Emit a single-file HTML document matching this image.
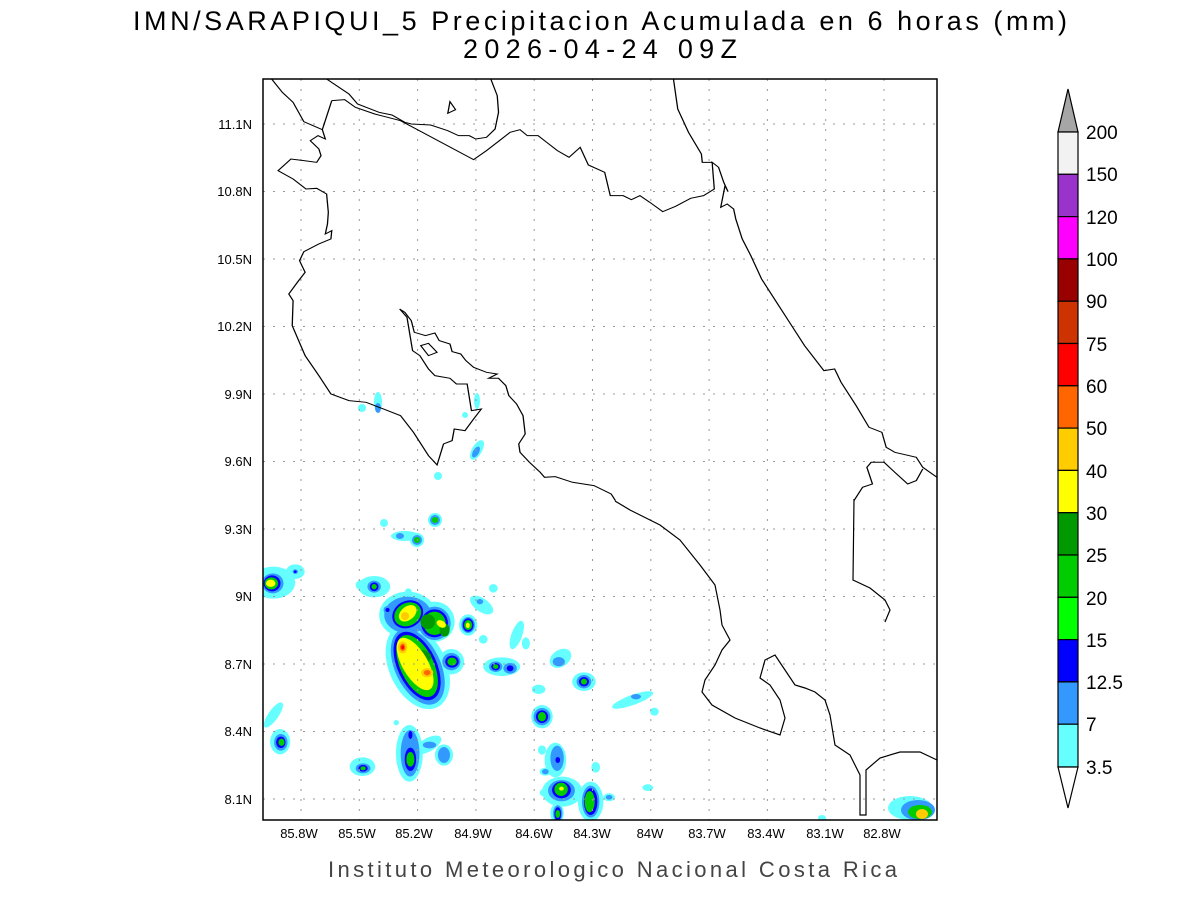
<!DOCTYPE html>
<html><head><meta charset="utf-8"><style>
body{margin:0;background:#fff;}
svg text{font-family:"Liberation Sans",sans-serif;}
</style></head><body>
<svg width="1200" height="900" xmlns="http://www.w3.org/2000/svg">
<rect width="1200" height="900" fill="#fff"/>
<text x="133" y="30" font-size="27" textLength="934" lengthAdjust="spacing" fill="#000">IMN/SARAPIQUI_5 Precipitacion Acumulada en 6 horas (mm)</text>
<text x="463" y="58" font-size="27" textLength="274" lengthAdjust="spacing" fill="#000">2026-04-24 09Z</text>
<defs><clipPath id="c"><rect x="263" y="79" width="674" height="741"/></clipPath></defs>
<g clip-path="url(#c)">
<g transform="translate(260,560) scale(0.3357,0.3333)">
<g fill="#66ffff">
<ellipse cx="40" cy="68" rx="65" ry="48"/><ellipse cx="105" cy="35" rx="28" ry="22"/>
<ellipse cx="340" cy="80" rx="48" ry="32"/><ellipse cx="300" cy="75" rx="15" ry="15"/>
<ellipse cx="440" cy="165" rx="85" ry="70"/><ellipse cx="520" cy="185" rx="60" ry="60"/>
<ellipse cx="470" cy="320" rx="85" ry="135" transform="rotate(-25 470 320)"/>
<ellipse cx="570" cy="305" rx="38" ry="38"/><ellipse cx="620" cy="195" rx="27" ry="32"/>
<ellipse cx="720" cy="320" rx="55" ry="28"/><ellipse cx="965" cy="365" rx="35" ry="28"/>
<ellipse cx="840" cy="470" rx="32" ry="35"/><ellipse cx="60" cy="545" rx="30" ry="38"/>
<ellipse cx="305" cy="620" rx="38" ry="28"/><ellipse cx="445" cy="580" rx="40" ry="85"/>
<ellipse cx="500" cy="555" rx="45" ry="20" transform="rotate(-30 500 555)"/>
<ellipse cx="548" cy="585" rx="27" ry="32"/><ellipse cx="880" cy="600" rx="32" ry="52"/>
<ellipse cx="900" cy="695" rx="60" ry="45"/><ellipse cx="985" cy="725" rx="38" ry="60"/>
<ellipse cx="885" cy="760" rx="20" ry="30"/>
<ellipse cx="765" cy="225" rx="16" ry="45" transform="rotate(20 765 225)"/>
<ellipse cx="792" cy="250" rx="12" ry="18"/><ellipse cx="660" cy="135" rx="40" ry="20" transform="rotate(35 660 135)"/>
<ellipse cx="695" cy="85" rx="13" ry="13"/><ellipse cx="665" cy="238" rx="13" ry="13"/>
<ellipse cx="1110" cy="420" rx="65" ry="15" transform="rotate(-20 1110 420)"/>
<ellipse cx="1175" cy="455" rx="13" ry="12"/><ellipse cx="830" cy="388" rx="20" ry="14"/>
<ellipse cx="840" cy="570" rx="12" ry="14"/><ellipse cx="1000" cy="622" rx="13" ry="16"/>
<ellipse cx="1155" cy="683" rx="16" ry="10"/><ellipse cx="848" cy="698" rx="15" ry="12"/>
<ellipse cx="1040" cy="712" rx="17" ry="12"/><ellipse cx="40" cy="465" rx="15" ry="45" transform="rotate(35 40 465)"/>
<ellipse cx="406" cy="488" rx="8" ry="8"/><ellipse cx="442" cy="95" rx="10" ry="10"/>
<ellipse cx="895" cy="295" rx="35" ry="25" transform="rotate(-35 895 295)"/>
<ellipse cx="850" cy="635" rx="17" ry="12"/><ellipse cx="390" cy="200" rx="20" ry="15"/>
</g>
<g fill="#3399ff">
<ellipse cx="38" cy="70" rx="32" ry="30"/><ellipse cx="105" cy="35" rx="8" ry="7"/>
<ellipse cx="340" cy="80" rx="20" ry="18"/><ellipse cx="380" cy="150" rx="12" ry="12"/>
<ellipse cx="440" cy="165" rx="70" ry="55"/><ellipse cx="520" cy="190" rx="48" ry="50"/>
<ellipse cx="470" cy="320" rx="68" ry="122" transform="rotate(-25 470 320)"/>
<ellipse cx="570" cy="305" rx="27" ry="26"/><ellipse cx="620" cy="195" rx="20" ry="24"/>
<ellipse cx="702" cy="320" rx="20" ry="16"/><ellipse cx="745" cy="325" rx="20" ry="16"/>
<ellipse cx="965" cy="365" rx="22" ry="20"/><ellipse cx="840" cy="470" rx="25" ry="26"/>
<ellipse cx="62" cy="547" rx="20" ry="25"/><ellipse cx="307" cy="625" rx="22" ry="15"/>
<ellipse cx="447" cy="580" rx="28" ry="70"/><ellipse cx="548" cy="585" rx="18" ry="24"/>
<ellipse cx="885" cy="595" rx="20" ry="38"/><ellipse cx="898" cy="692" rx="40" ry="32"/>
<ellipse cx="985" cy="725" rx="26" ry="48"/><ellipse cx="887" cy="760" rx="14" ry="24"/>
<ellipse cx="1120" cy="410" rx="15" ry="8"/><ellipse cx="655" cy="125" rx="10" ry="8"/>
<ellipse cx="890" cy="305" rx="18" ry="14"/><ellipse cx="505" cy="555" rx="20" ry="10"/>
<ellipse cx="850" cy="635" rx="10" ry="8"/><ellipse cx="1040" cy="712" rx="10" ry="7"/>
</g>
<g fill="#0000ff">
<ellipse cx="36" cy="70" rx="25" ry="24"/><ellipse cx="105" cy="35" rx="4" ry="4"/>
<ellipse cx="340" cy="80" rx="13" ry="13"/><ellipse cx="380" cy="150" rx="6" ry="6"/>
<ellipse cx="440" cy="163" rx="48" ry="40" transform="rotate(-30 440 163)"/><ellipse cx="520" cy="190" rx="40" ry="42"/>
<ellipse cx="468" cy="318" rx="58" ry="110" transform="rotate(-25 468 318)"/>
<ellipse cx="572" cy="305" rx="20" ry="18"/><ellipse cx="620" cy="195" rx="16" ry="20"/>
<ellipse cx="702" cy="320" rx="13" ry="11"/><ellipse cx="745" cy="325" rx="10" ry="9"/>
<ellipse cx="965" cy="365" rx="15" ry="14"/><ellipse cx="840" cy="470" rx="18" ry="19"/>
<ellipse cx="62" cy="547" rx="14" ry="17"/><ellipse cx="307" cy="625" rx="14" ry="10"/>
<ellipse cx="448" cy="598" rx="17" ry="35"/><ellipse cx="448" cy="525" rx="6" ry="12"/>
<ellipse cx="887" cy="600" rx="7" ry="9"/><ellipse cx="898" cy="690" rx="28" ry="25"/>
<ellipse cx="985" cy="725" rx="20" ry="40"/><ellipse cx="887" cy="762" rx="10" ry="20"/>
</g>
<g fill="#00cc00">
<ellipse cx="34" cy="70" rx="20" ry="18"/><ellipse cx="340" cy="80" rx="8" ry="8"/>
<ellipse cx="440" cy="163" rx="42" ry="34" transform="rotate(-30 440 163)"/><ellipse cx="520" cy="190" rx="33" ry="35"/>
<ellipse cx="468" cy="318" rx="50" ry="100" transform="rotate(-25 468 318)"/>
<ellipse cx="572" cy="305" rx="14" ry="12"/><ellipse cx="620" cy="195" rx="12" ry="15"/>
<ellipse cx="702" cy="320" rx="8" ry="7"/><ellipse cx="965" cy="365" rx="9" ry="9"/>
<ellipse cx="840" cy="470" rx="12" ry="14"/><ellipse cx="64" cy="547" rx="9" ry="11"/>
<ellipse cx="307" cy="625" rx="8" ry="6"/><ellipse cx="448" cy="598" rx="12" ry="22"/>
<ellipse cx="897" cy="688" rx="20" ry="20"/><ellipse cx="982" cy="725" rx="15" ry="32"/>
<ellipse cx="887" cy="762" rx="7" ry="12"/>
</g>
<g fill="#009900"><ellipse cx="500" cy="185" rx="22" ry="22"/><ellipse cx="550" cy="210" rx="15" ry="20"/><ellipse cx="480" cy="290" rx="30" ry="20"/></g>
<g fill="#ffff00">
<ellipse cx="32" cy="70" rx="14" ry="11"/>
<ellipse cx="440" cy="160" rx="30" ry="20" transform="rotate(-40 440 160)"/><ellipse cx="540" cy="192" rx="15" ry="10" transform="rotate(30 540 192)"/>
<ellipse cx="462" cy="312" rx="38" ry="88" transform="rotate(-30 462 312)"/>
<ellipse cx="619" cy="196" rx="6" ry="8"/><ellipse cx="898" cy="686" rx="7" ry="6"/>
</g>
<g fill="#ffcc00"><ellipse cx="432" cy="168" rx="12" ry="12"/><ellipse cx="425" cy="262" rx="14" ry="18"/><ellipse cx="498" cy="338" rx="18" ry="14"/></g>
<g fill="#ff6600"><ellipse cx="425" cy="262" rx="8" ry="11"/><ellipse cx="498" cy="338" rx="10" ry="8"/></g>
<ellipse cx="425" cy="262" rx="4" ry="6" fill="#ff0000"/>
</g>
<g fill="#66ffff">
<ellipse cx="378" cy="402" rx="4" ry="10"/><ellipse cx="362" cy="408" rx="4" ry="4"/>
<ellipse cx="477" cy="401" rx="3" ry="8"/><ellipse cx="465" cy="415" rx="3" ry="3"/>
<ellipse cx="477" cy="450" rx="5" ry="11" transform="rotate(30 477 450)"/>
<ellipse cx="438" cy="476" rx="4" ry="4"/><ellipse cx="384" cy="523" rx="4" ry="4"/>
<ellipse cx="405" cy="536" rx="14" ry="5"/><ellipse cx="417" cy="540" rx="7" ry="7"/>
<ellipse cx="435" cy="520" rx="7" ry="7"/><ellipse cx="910" cy="808" rx="22" ry="12"/><ellipse cx="822" cy="818" rx="4" ry="3"/>
</g>
<g fill="#3399ff"><ellipse cx="378" cy="408" rx="3" ry="5"/><ellipse cx="476" cy="452" rx="3" ry="6" transform="rotate(30 476 452)"/><ellipse cx="400" cy="536" rx="4" ry="3"/><ellipse cx="435" cy="520" rx="5" ry="5"/><ellipse cx="417" cy="540" rx="5" ry="5"/><ellipse cx="918" cy="810" rx="17" ry="10"/></g>
<g fill="#00cc00"><ellipse cx="435" cy="520" rx="3" ry="3"/><ellipse cx="417" cy="540" rx="3" ry="3"/><ellipse cx="920" cy="812" rx="12" ry="7"/></g>
<ellipse cx="922" cy="814" rx="6" ry="5" fill="#ffcc00"/>
<g stroke="#999" stroke-width="1" stroke-dasharray="2,8">
<line x1="301" y1="79" x2="301" y2="820"/><line x1="359.3" y1="79" x2="359.3" y2="820"/><line x1="417.6" y1="79" x2="417.6" y2="820"/><line x1="475.9" y1="79" x2="475.9" y2="820"/><line x1="534.2" y1="79" x2="534.2" y2="820"/><line x1="592.5" y1="79" x2="592.5" y2="820"/><line x1="650.8" y1="79" x2="650.8" y2="820"/><line x1="709.1" y1="79" x2="709.1" y2="820"/><line x1="767.4" y1="79" x2="767.4" y2="820"/><line x1="825.7" y1="79" x2="825.7" y2="820"/><line x1="884" y1="79" x2="884" y2="820"/>
<line x1="263" y1="799" x2="937" y2="799"/><line x1="263" y1="731.5" x2="937" y2="731.5"/><line x1="263" y1="664" x2="937" y2="664"/><line x1="263" y1="596.5" x2="937" y2="596.5"/><line x1="263" y1="529" x2="937" y2="529"/><line x1="263" y1="461.5" x2="937" y2="461.5"/><line x1="263" y1="394" x2="937" y2="394"/><line x1="263" y1="326.5" x2="937" y2="326.5"/><line x1="263" y1="259" x2="937" y2="259"/><line x1="263" y1="191.5" x2="937" y2="191.5"/><line x1="263" y1="124" x2="937" y2="124"/>
</g>
<g transform="translate(263,79) scale(0.4298,0.3333)" fill="none" stroke="#000" stroke-width="3">
<polyline points="148,0 200,45 220,75 270,100 300,108 330,130 345,135 390,138 430,155 455,170 480,170 495,180 520,175 540,150 548,100 545,50 530,0"/>
<polyline points="160,65 190,62 215,85 260,105 290,115 320,125 490,242 520,215 555,180 575,160 598,152 615,170 640,170 660,190 685,215 712,235 738,205 757,258 795,280 808,350 838,350 857,362 877,350 900,370 930,398 960,382 995,358 1025,350 1050,330 1045,250 1060,265 1072,310 1082,338 1075,320 1065,385 1080,375 1095,390 1100,420 1115,480 1135,530 1160,600 1190,660 1225,730 1260,800 1305,875 1330,870 1345,910 1380,980 1410,1045 1440,1060 1450,1105 1470,1120 1520,1135 1535,1165 1568,1195"/>
<polyline points="955,0 965,90 990,160 1020,225 1022,250 1045,250"/>
<polyline points="20,0 45,40 70,70 95,128 138,152 160,65"/>
<polyline points="138,152 145,180 128,170 110,185 130,210 135,230 125,250 95,245 65,240 35,275 70,300 100,330 125,328 148,345 152,400 150,435 145,465 160,455 158,480 130,495 95,518 85,545 98,580 80,610 60,645 70,665 68,740 98,830 130,890 158,945 200,965 240,970 280,990 320,1010 350,1060 385,1130 405,1158 420,1095 440,1085 445,1050 470,1055 490,1020 508,990 485,995 475,915 450,915 435,898 400,890 385,870 365,830 348,815 335,715 318,690 330,700 345,725 352,760 378,770 400,762 410,785 435,795 440,818 460,825 472,845 490,865 520,880 545,885 525,898 548,898 565,920 572,950 590,975 605,1010 610,1065 595,1095 598,1120 620,1150 645,1180 655,1195 680,1193 720,1210 770,1220 810,1245 820,1265"/>
<polygon points="435,68 448,92 430,103"/>
<polygon points="367,800 385,793 405,820 385,830"/>
<polyline points="1375,1265 1395,1225 1418,1215 1405,1165 1415,1150 1445,1150 1470,1180 1500,1215 1520,1205 1535,1170"/>
</g>
<polyline fill="none" stroke="#000" stroke-width="1.2" points="615,501 630,510 660,525 680,540 700,565 715,585 720,610 722,625 730,640 722,650 715,665 705,680 702,692 712,705 735,718 760,728 780,735 785,718 780,700 770,685 760,678 765,660 775,655 785,670 795,685 805,688 815,692 825,700 830,715 835,745 850,755 860,775 860,815 866,815 866,770 880,758 900,752 920,752 937,760"/>
<polyline fill="none" stroke="#000" stroke-width="1.2" points="854,499 853,580 870,588 885,600 890,610 885,622"/>
</g>
<rect x="263" y="79" width="674" height="741" fill="none" stroke="#000" stroke-width="1.5"/>
<g font-size="13" text-anchor="middle" fill="#000">
<text x="299" y="838">85.8W</text><text x="357" y="838">85.5W</text><text x="414" y="838">85.2W</text><text x="473" y="838">84.9W</text><text x="534" y="838">84.6W</text><text x="592" y="838">84.3W</text><text x="650" y="838">84W</text><text x="707" y="838">83.7W</text><text x="766" y="838">83.4W</text><text x="825" y="838">83.1W</text><text x="882" y="838">82.8W</text>
</g>
<g font-size="13" text-anchor="end" fill="#000">
<text x="252" y="804">8.1N</text><text x="252" y="736">8.4N</text><text x="252" y="669">8.7N</text><text x="252" y="601">9N</text><text x="252" y="534">9.3N</text><text x="252" y="466">9.6N</text><text x="252" y="399">9.9N</text><text x="252" y="331">10.2N</text><text x="252" y="264">10.5N</text><text x="252" y="196">10.8N</text><text x="252" y="129">11.1N</text>
</g>
<text x="328" y="877" font-size="22" textLength="569" lengthAdjust="spacing" fill="#444">Instituto Meteorologico Nacional Costa Rica</text>
<g stroke="#000" stroke-width="1.2">
<polygon points="1058,132 1078,132 1068,89" fill="#a6a6a6"/>
<rect x="1058" y="132" width="20" height="42.3" fill="#f2f2f2"/>
<rect x="1058" y="174.3" width="20" height="42.3" fill="#9933cc"/>
<rect x="1058" y="216.6" width="20" height="42.3" fill="#ff00ff"/>
<rect x="1058" y="258.9" width="20" height="42.3" fill="#990000"/>
<rect x="1058" y="301.2" width="20" height="42.3" fill="#cc3300"/>
<rect x="1058" y="343.5" width="20" height="42.3" fill="#ff0000"/>
<rect x="1058" y="385.8" width="20" height="42.3" fill="#ff6600"/>
<rect x="1058" y="428.1" width="20" height="42.3" fill="#ffcc00"/>
<rect x="1058" y="470.4" width="20" height="42.3" fill="#ffff00"/>
<rect x="1058" y="512.7" width="20" height="42.3" fill="#009900"/>
<rect x="1058" y="555" width="20" height="42.3" fill="#00cc00"/>
<rect x="1058" y="597.3" width="20" height="42.3" fill="#00ff00"/>
<rect x="1058" y="639.6" width="20" height="42.3" fill="#0000ff"/>
<rect x="1058" y="681.9" width="20" height="42.3" fill="#3399ff"/>
<rect x="1058" y="724.2" width="20" height="42.8" fill="#66ffff"/>
<polygon points="1058,767 1078,767 1068,808" fill="#fff"/>
</g>
<g font-size="19" fill="#000">
<text x="1086" y="139">200</text><text x="1086" y="181">150</text><text x="1086" y="224">120</text><text x="1086" y="266">100</text><text x="1086" y="308">90</text><text x="1086" y="351">75</text><text x="1086" y="393">60</text><text x="1086" y="435">50</text><text x="1086" y="478">40</text><text x="1086" y="520">30</text><text x="1086" y="562">25</text><text x="1086" y="605">20</text><text x="1086" y="647">15</text><text x="1086" y="689">12.5</text><text x="1086" y="731">7</text><text x="1086" y="774">3.5</text>
</g>
</svg>
</body></html>
